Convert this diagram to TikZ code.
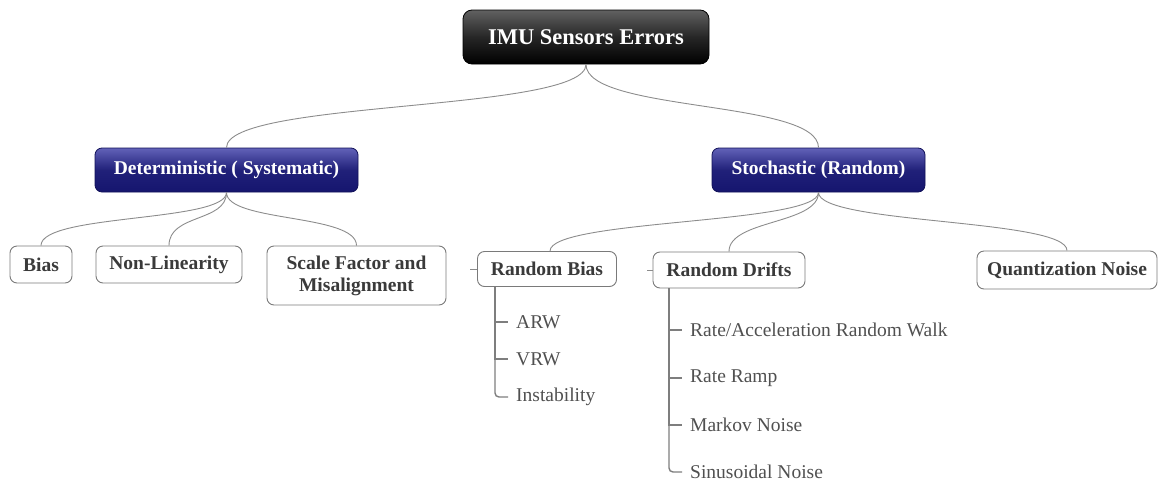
\documentclass[tikz,border=0pt]{standalone}
\usepackage{fontspec}
\setmainfont{Liberation Serif}
\usetikzlibrary{shadings}
\definecolor{linegray}{HTML}{8C8C8C}
\definecolor{boxgray}{HTML}{7A7A7A}
\definecolor{txtgray}{HTML}{3A3A3A}
\definecolor{leafgray}{HTML}{505050}
\definecolor{navytop}{HTML}{6262B8}
\definecolor{navybot}{HTML}{15156E}
\tikzset{
  conn/.style={draw=linegray, line width=0.9pt},
  trunk/.style={draw=linegray!90!black, line width=1.4pt},
  rootbox/.style={rounded corners=9pt, draw=black, line width=0.8pt,
    top color=black!62, bottom color=black, middle color=black!85,
    text=white, font=\fontsize{22.5}{26}\selectfont\bfseries,
    minimum width=246pt, minimum height=54pt, inner sep=0pt},
  catbox/.style={rounded corners=7pt, draw=navybot!80!black, line width=0.8pt,
    top color=navytop, bottom color=navybot, middle color=navybot!85!navytop,
    text=white, font=\fontsize{19.5}{23}\selectfont\bfseries,
    minimum height=44pt, inner sep=0pt},
  leafbox/.style={rounded corners=7pt, draw=boxgray, line width=0.9pt, fill=white,
    text=txtgray, font=\fontsize{19.5}{23}\selectfont\bfseries,
    inner sep=0pt, align=center},
  subitem/.style={anchor=west, inner xsep=8pt, inner ysep=0pt, text=leafgray,
    font=\fontsize{19.5}{23}\selectfont},
}
\begin{document}
\begin{tikzpicture}[x=1pt, y=-1pt]
\useasboundingbox (0,0) rectangle (1159,485);

% top level
\node[rootbox] (root) at (586,37) {IMU Sensors Errors};

% categories
\node[catbox, minimum width=263pt] (det) at (226.5,170) {Deterministic ( Systematic)};
\node[catbox, minimum width=213pt] (sto) at (818.5,170) {Stochastic (Random)};

% deterministic errors
\node[leafbox, minimum width=62pt, minimum height=37pt] (bias) at (41,264.5) {Bias};
\node[leafbox, minimum width=146pt, minimum height=37pt] (nonlin) at (169,264.5) {Non-Linearity};
\node[leafbox, minimum width=179pt, minimum height=59pt] (scale) at (356.5,275.5) {Scale Factor and\\[-1pt]Misalignment};

% stochastic errors
\node[leafbox, minimum width=139pt, minimum height=35pt] (rbias) at (547,269) {Random Bias};
\node[leafbox, minimum width=152pt, minimum height=36pt] (rdrift) at (729,270) {Random Drifts};
\node[leafbox, minimum width=180pt, minimum height=38pt] (quant) at (1067,270) {Quantization Noise};

% random bias items
\node[subitem] (arw) at (508,322) {ARW};
\node[subitem] (vrw) at (508,359) {VRW};
\node[subitem] (inst) at (508,397) {Instability};

% random drift items
\node[subitem] (rarw) at (682,330) {Rate/Acceleration Random Walk};
\node[subitem] (ramp) at (682,378) {Rate Ramp};
\node[subitem] (markov) at (682,425) {Markov Noise};
\node[subitem] (sine) at (682,472) {Sinusoidal Noise};

% curved branches
\draw[conn] (root.south) .. controls +(0,48) and +(0,-48) .. (det.north);
\draw[conn] (root.south) .. controls +(0,48) and +(0,-48) .. (sto.north);

\draw[conn] (det.south) .. controls +(0,30) and +(0,-32) .. (bias.north);
\draw[conn] (det.south) .. controls +(0,30) and +(0,-32) .. (nonlin.north);
\draw[conn] (det.south) .. controls +(0,30) and +(0,-32) .. (scale.north);

\draw[conn] (sto.south) .. controls +(0,32) and +(0,-32) .. ([xshift=3pt]rbias.north);
\draw[conn] (sto.south) .. controls +(0,32) and +(0,-32) .. (rdrift.north);
\draw[conn] (sto.south) .. controls +(0,32) and +(0,-32) .. (quant.north);

% short stubs on the left of the random groups
\draw[conn] (rbias.west) -- +(-7,0);
\draw[conn] (rdrift.west) -- +(-6,0);

% item trunks
\coordinate (rbtrunk) at (495,286.5);
\draw[trunk] (rbtrunk) |- (arw.west);
\draw[trunk] (rbtrunk) |- (vrw.west);
\draw[trunk, rounded corners=4pt] (rbtrunk) |- (inst.west);

\coordinate (rdtrunk) at (669,288);
\draw[trunk] (rdtrunk) |- (rarw.west);
\draw[trunk] (rdtrunk) |- (ramp.west);
\draw[trunk] (rdtrunk) |- (markov.west);
\draw[trunk, rounded corners=4pt] (rdtrunk) |- (sine.west);
\end{tikzpicture}
\end{document}
